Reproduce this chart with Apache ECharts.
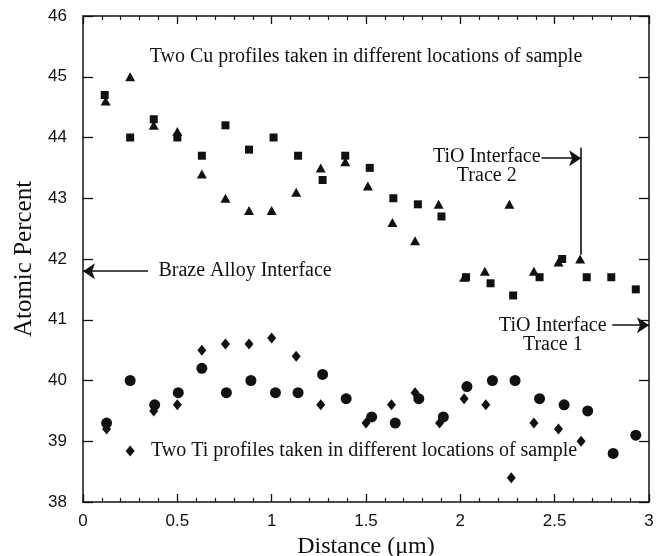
<!DOCTYPE html>
<html><head><meta charset="utf-8">
<script src="https://cdn.jsdelivr.net/npm/echarts@6/dist/echarts.min.js"></script>
<style>html,body{margin:0;padding:0;background:#fff}#c{width:665px;height:556px}</style>
</head><body><div id="c"></div>
<script>
// Cu profile (squares)
const cuSqX = [0.115,0.25,0.375,0.5,0.63,0.755,0.88,1.01,1.14,1.27,1.39,1.52,1.645,1.775,1.9,2.03,2.16,2.28,2.42,2.54,2.67,2.80,2.93];
const cuSqY = [44.7,44.0,44.3,44.0,43.7,44.2,43.8,44.0,43.7,43.3,43.7,43.5,43.0,42.9,42.7,41.7,41.6,41.4,41.7,42.0,41.7,41.7,41.5];
// Cu profile (triangles)
const cuTrX = [0.12,0.25,0.375,0.5,0.63,0.755,0.88,1.0,1.13,1.26,1.39,1.51,1.64,1.76,1.885,2.02,2.13,2.26,2.39,2.52,2.635];
const cuTrY = [44.6,45.0,44.2,44.1,43.4,43.0,42.8,42.8,43.1,43.5,43.6,43.2,42.6,42.3,42.9,41.7,41.8,42.9,41.8,41.95,42.0];
// Ti profile (circles)
const tiCiX = [0.125,0.25,0.38,0.505,0.63,0.76,0.89,1.02,1.14,1.27,1.395,1.53,1.655,1.78,1.91,2.035,2.17,2.29,2.42,2.55,2.675,2.81,2.93];
const tiCiY = [39.3,40.0,39.6,39.8,40.2,39.8,40.0,39.8,39.8,40.1,39.7,39.4,39.3,39.7,39.4,39.9,40.0,40.0,39.7,39.6,39.5,38.8,39.1];
// Ti profile (diamonds)
const tiDiX = [0.125,0.375,0.5,0.63,0.755,0.88,1.0,1.13,1.26,1.39,1.5,1.635,1.76,1.89,2.02,2.135,2.27,2.39,2.52,2.64];
const tiDiY = [39.2,39.5,39.6,40.5,40.6,40.6,40.7,40.4,39.6,39.7,39.3,39.6,39.8,39.3,39.7,39.6,38.4,39.3,39.2,39.0];

const xTicks = {min:0, max:3, interval:0.5};
const yTicks = {min:38, max:46, interval:1};

const pair = (xs, ys) => xs.map((x, i) => [x, ys[i]]);
const INK = '#111111';
const SERIF = '"Liberation Serif", "DejaVu Serif", serif';
const SANS = '"Liberation Sans", Arial, sans-serif';

const chart = echarts.init(document.getElementById('c'), null, {renderer: 'canvas'});

const txt = (coord, text, align) => ({
  coord: coord, symbol: 'circle', symbolSize: 0, itemStyle: {color: 'transparent'},
  label: {show: true, position: 'inside', formatter: text, color: INK,
          fontFamily: SERIF, fontSize: 20, align: align || 'center', verticalAlign: 'middle', lineHeight: 19}
});

const arrowLine = (a, b) => [{coord: a}, {coord: b}];

const baseX = {
  type: 'value', min: xTicks.min, max: xTicks.max, interval: xTicks.interval,
  axisLine: {show: true, onZero: false, lineStyle: {color: INK, width: 1.5}},
  axisTick: {show: true, inside: true, length: 8, lineStyle: {color: INK, width: 1.3}},
  minorTick: {show: true, splitNumber: 5, length: 4, lineStyle: {color: INK, width: 1.2}},
  splitLine: {show: false}, minorSplitLine: {show: false}
};
const baseY = {
  type: 'value', min: yTicks.min, max: yTicks.max, interval: yTicks.interval,
  axisLine: {show: true, onZero: false, lineStyle: {color: INK, width: 1.5}},
  axisTick: {show: true, inside: true, length: 10, lineStyle: {color: INK, width: 1.3}},
  splitLine: {show: false}
};
const dot = (extra) => Object.assign({color: INK, opacity: 1}, extra || {});

chart.setOption({
  backgroundColor: '#fff',
  animation: false,
  grid: {left: 83, right: 16, top: 16, bottom: 54, containLabel: false, outerBoundsMode: 'none'},
  xAxis: [
    Object.assign({}, baseX, {position: 'bottom',
      axisLabel: {show: true, color: INK, fontFamily: SANS, fontSize: 17, margin: 11},
      name: 'Distance (\u03bcm)', nameLocation: 'middle', nameGap: 30,
      nameTextStyle: {color: INK, fontFamily: SERIF, fontSize: 24}}),
    Object.assign({}, baseX, {position: 'top', axisLabel: {show: false}})
  ],
  yAxis: [
    Object.assign({}, baseY, {position: 'left',
      axisLabel: {show: true, color: INK, fontFamily: SANS, fontSize: 17, margin: 16},
      name: 'Atomic Percent', nameLocation: 'middle', nameGap: 45,
      nameTextStyle: {color: INK, fontFamily: SERIF, fontSize: 25}}),
    Object.assign({}, baseY, {position: 'right', axisLabel: {show: false}})
  ],
  series: [
    {
      type: 'scatter', name: 'Cu squares', data: pair(cuSqX, cuSqY), symbol: 'rect', symbolSize: 8,
      itemStyle: dot(),
      markPoint: {
        silent: true, animation: false,
        data: [
          txt([1.50, 45.33], 'Two Cu profiles taken in different locations of sample'),
          txt([0.40, 41.80], 'Braze Alloy Interface', 'left'),
          txt([2.14, 43.52], 'TiO Interface\nTrace 2'),
          txt([2.49, 40.74], 'TiO Interface\nTrace 1'),
          txt([0.36, 38.84], 'Two Ti profiles taken in different locations of sample', 'left'),
          {coord: [0.25, 38.84], symbol: 'diamond', symbolSize: [9, 11], itemStyle: dot(), label: {show: false}}
        ]
      },
      markLine: {
        silent: true, animation: false,
        symbol: ['none', 'arrow'], symbolSize: 12,
        label: {show: false},
        lineStyle: {color: INK, width: 1.6, type: 'solid', opacity: 1},
        data: [
          arrowLine([0.345, 41.80], [0.0, 41.80]),
          arrowLine([2.43, 43.66], [2.64, 43.66]),
          arrowLine([2.805, 40.91], [3.0, 40.91]),
          [{coord: [2.64, 43.83], symbol: 'none'}, {coord: [2.64, 42.07], symbol: 'none'}]
        ]
      }
    },
    {type: 'scatter', name: 'Cu triangles', data: pair(cuTrX, cuTrY), symbol: 'triangle', symbolSize: [10, 9], itemStyle: dot()},
    {type: 'scatter', name: 'Ti circles', data: pair(tiCiX, tiCiY), symbol: 'circle', symbolSize: 11, itemStyle: dot()},
    {type: 'scatter', name: 'Ti diamonds', data: pair(tiDiX, tiDiY), symbol: 'diamond', symbolSize: [9, 11], itemStyle: dot()}
  ]
});
</script></body></html>
